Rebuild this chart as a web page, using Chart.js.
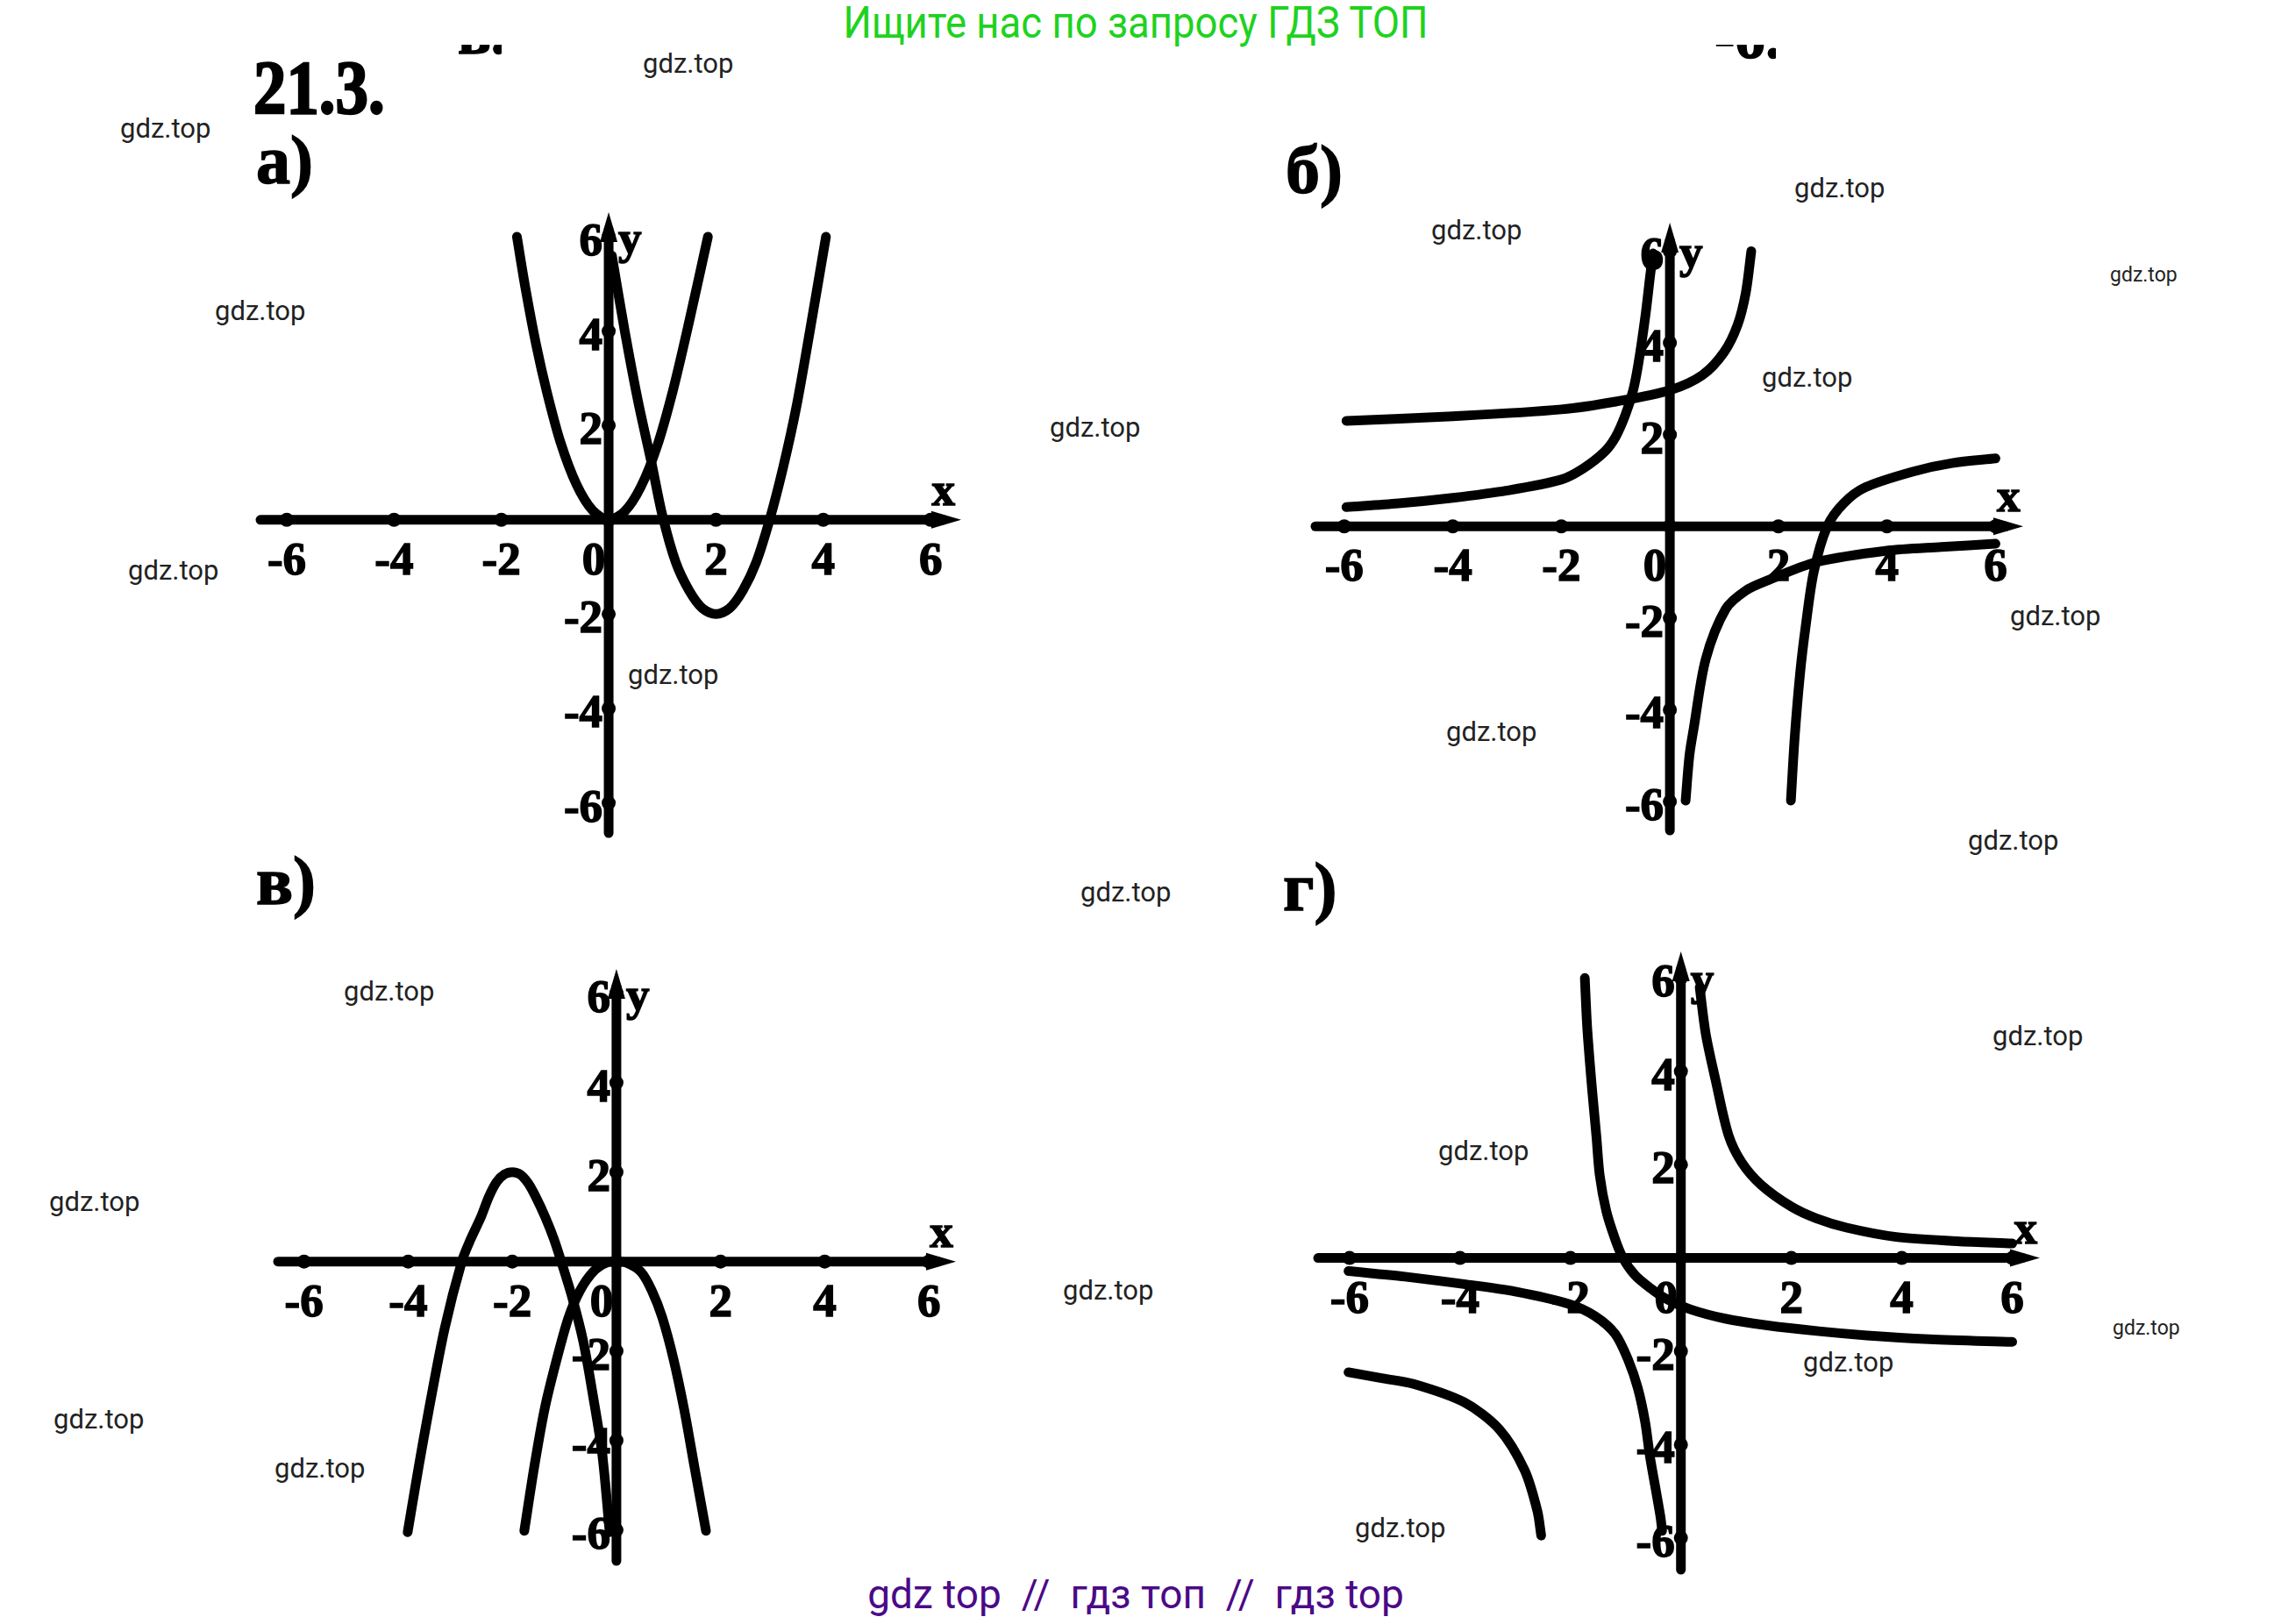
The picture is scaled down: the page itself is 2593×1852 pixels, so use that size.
<!DOCTYPE html>
<html lang="ru">
<head>
<meta charset="UTF-8">
<title>21.3</title>
<script src="https://cdn.jsdelivr.net/npm/chart.js"></script>
<style>
    body { margin: 0; background: #fff; }
    #page { position: relative; width: 2593px; height: 1852px; overflow: hidden; background: #fff; }
    .lbl { position: absolute; font-family: "Liberation Serif", serif; font-weight: bold; color: #000; line-height: 1; white-space: pre; -webkit-text-stroke: 1.5px #000; }
    .wm { position: absolute; font-family: Roboto, sans-serif; color: #222; line-height: 1; white-space: pre; }
    .clip { position: absolute; overflow: hidden; }
    canvas { position: absolute; }
</style>
</head>
<body>
<div id="page"></div>
<script>
// tick values, same on all four plots
const xTicks = [-6, -4, -2, 0, 2, 4, 6];
const yTicks = [6, 4, 2, -2, -4, -6];

// а) two parabolas
const aParabola1 = [[-1.71, 6.0], [-1.55, 4.9], [-1.35, 3.7], [-1.15, 2.7], [-0.9, 1.65], [-0.6, 0.75], [-0.3, 0.2], [0, 0],
    [0.3, 0.18], [0.6, 0.7], [0.9, 1.55], [1.2, 2.75], [1.5, 4.2], [1.85, 6.0]];
const aParabola2 = [[0.06, 5.6], [0.3, 4.0], [0.55, 2.5], [0.8, 1.2], [1.0, 0.1], [1.25, -0.9], [1.5, -1.5], [1.75, -1.88],
    [2.0, -2.0], [2.25, -1.88], [2.5, -1.5], [2.75, -0.9], [3.0, 0.0], [3.25, 1.1], [3.5, 2.4], [3.75, 4.0], [4.05, 6.0]];

// б) two hyperbolas, two branches each
const bCurve1Left = [[-5.96, 2.3], [-4, 2.4], [-2, 2.55], [-1, 2.72], [0, 2.97], [0.6, 3.3], [1.0, 3.8], [1.25, 4.4], [1.4, 5.1], [1.5, 6.0]];
const bCurve1Right = [[2.23, -5.98], [2.3, -4.6], [2.4, -3.2], [2.5, -2.2], [2.65, -1.0], [2.9, 0], [3.2, 0.5], [3.6, 0.85], [4.5, 1.2], [5.2, 1.38], [6.0, 1.48]];
const bCurve2Left = [[-5.96, 0.42], [-5, 0.5], [-4, 0.62], [-3, 0.78], [-2, 1.02], [-1.6, 1.26], [-1.2, 1.63], [-1.0, 1.95],
    [-0.82, 2.43], [-0.68, 2.95], [-0.58, 3.55], [-0.45, 4.6], [-0.36, 5.5], [-0.31, 5.95]];
const bCurve2Right = [[0.29, -5.98], [0.36, -5.0], [0.44, -4.4], [0.66, -2.9], [1.03, -1.8], [1.4, -1.4], [1.8, -1.18], [2.7, -0.78], [4.0, -0.53], [5.0, -0.45], [6.0, -0.38]];

// в) two downward parabolas
const vParabola1 = [[-4.01, -6.05], [-3.8, -4.6], [-3.6, -3.3], [-3.3, -1.5], [-2.97, 0], [-2.8, 0.5], [-2.6, 1.0], [-2.45, 1.45],
    [-2.3, 1.78], [-2.15, 1.95], [-2.0, 2.0], [-1.85, 1.95], [-1.7, 1.76], [-1.55, 1.45], [-1.37, 1.0], [-1.2, 0.5], [-1.06, 0],
    [-0.85, -0.8], [-0.64, -1.77], [-0.45, -3.0], [-0.27, -4.33], [-0.13, -6.05]];
const vParabola2 = [[-1.77, -6.02], [-1.58, -4.6], [-1.38, -3.3], [-1.15, -2.2], [-0.92, -1.25], [-0.7, -0.65], [-0.45, -0.23], [-0.2, -0.03], [0, 0],
    [0.2, -0.03], [0.47, -0.23], [0.68, -0.65], [0.88, -1.25], [1.1, -2.2], [1.3, -3.3], [1.5, -4.6], [1.72, -6.02]];

// г) two hyperbolas
const gCurve1Right = [[0.34, 5.8], [0.45, 4.8], [0.63, 3.8], [0.86, 2.64], [1.1, 2.05], [1.45, 1.57], [2.0, 1.1], [2.45, 0.85], [3.0, 0.65], [3.9, 0.45], [5.0, 0.36], [6.0, 0.31]];
const gCurve1Left = [[-6.02, -0.28], [-5, -0.4], [-3.93, -0.56], [-3, -0.72], [-2.02, -0.99], [-1.55, -1.25], [-1.19, -1.63], [-0.95, -2.2],
    [-0.78, -2.79], [-0.65, -3.5], [-0.56, -4.26], [-0.45, -5.0], [-0.37, -5.55], [-0.34, -5.85]];
const gCurve2Right = [[-1.74, 6.0], [-1.7, 5.0], [-1.65, 4.2], [-1.6, 3.5], [-1.53, 2.6], [-1.47, 1.77], [-1.35, 1.0], [-1.19, 0.4], [-1.05, 0.0],
    [-0.83, -0.37], [-0.55, -0.65], [-0.29, -0.86], [0.17, -1.1], [0.8, -1.3], [1.54, -1.44], [2.5, -1.57], [3.37, -1.66], [4.5, -1.74], [6.0, -1.8]];
const gCurve2Left = [[-6.02, -2.45], [-5.4, -2.58], [-4.84, -2.7], [-3.93, -3.09], [-3.29, -3.67], [-2.83, -4.55], [-2.6, -5.42], [-2.53, -5.95]];

// where each plot sits on the page (origin pixel, pixels per unit, axis extent)
const panels = [
    { curves: [aParabola1, aParabola2], ox: 694, oy: 593, ux: 61.2, uy: 53.8, xr: [-6.49, 6.57], yr: [-6.64, 6.52] },
    { curves: [bCurve1Left, bCurve1Right, bCurve2Left, bCurve2Right], ox: 1904, oy: 600, ux: 61.9, uy: 52.3, xr: [-6.53, 6.51], yr: [-6.63, 6.62] },
    { curves: [vParabola1, vParabola2], ox: 703, oy: 1439, ux: 59.4, uy: 51, xr: [-6.5, 6.52], yr: [-6.69, 6.54] },
    { curves: [gCurve1Right, gCurve1Left, gCurve2Right, gCurve2Left], ox: 1917, oy: 1435, ux: 63, uy: 53.2, xr: [-6.57, 6.5], yr: [-6.68, 6.57] }
];

const page = document.getElementById('page');

function addText(cls, txt, left, baseline, size, extra) {
    const d = document.createElement('div');
    d.className = cls;
    d.textContent = txt;
    d.style.left = left + 'px';
    d.style.top = (baseline - 0.84 * size) + 'px';
    d.style.fontSize = size + 'px';
    Object.assign(d.style, extra || {});
    page.appendChild(d);
    return d;
}

// headings
addText('lbl', '21.3.', 289, 129, 86, { transform: 'scaleX(0.87)', transformOrigin: 'left', webkitTextStroke: '2.5px #000' });
addText('lbl', 'а)', 292, 210, 78);
addText('lbl', 'б)', 1466, 221, 78);
addText('lbl', 'в)', 292, 1032, 78);
addText('lbl', 'г)', 1463, 1039, 78);

// scraps of the previous exercise cut off at the top edge
function addScrap(txt, left, top, w, h, baseline, size) {
    const c = document.createElement('div');
    c.className = 'clip';
    Object.assign(c.style, { left: left + 'px', top: top + 'px', width: w + 'px', height: h + 'px' });
    const s = document.createElement('div');
    s.className = 'lbl';
    s.textContent = txt;
    s.style.fontSize = size + 'px';
    s.style.left = '0px';
    s.style.top = (baseline - 0.84 * size - top) + 'px';
    c.appendChild(s);
    page.appendChild(c);
}
addScrap('в.', 522, 51, 50, 12, 62, 70);
addScrap('-б.', 1955, 51, 70, 17, 67, 70);

// site banners
addText('wm', 'Ищите нас по запросу ГДЗ ТОП', 1295, 43, 50, { color: '#1fd21f', transform: 'translateX(-50%) scaleX(0.91)' });
addText('wm', 'gdz top  //  гдз топ  //  гдз top', 1295, 1834, 46, { color: '#4b0a87', transform: 'translateX(-50%)' });

// watermarks: [left, top of letters, size]
const marks = [[733, 60, 31], [137, 134, 31], [245, 342, 31], [1197, 475, 31], [146, 638, 31], [716, 757, 31],
    [1632, 250, 31], [2046, 202, 31], [2406, 304, 23], [2009, 418, 31], [2292, 690, 31], [1649, 822, 31],
    [2244, 946, 31], [1232, 1005, 31], [392, 1118, 31], [56, 1358, 31], [1212, 1459, 31], [61, 1606, 31],
    [313, 1662, 31], [2272, 1169, 31], [1640, 1300, 31], [2409, 1505, 23], [2056, 1541, 31], [1545, 1730, 31]];
marks.forEach(m => addText('wm', 'gdz.top', m[0], m[1] + 0.75 * m[2], m[2]));

const PAD = 40;
const tickFont = 'bold 53px "Liberation Serif", serif';

function dot(ctx, px, py) {
    ctx.beginPath();
    ctx.arc(px, py, 8, 0, Math.PI * 2);
    ctx.fill();
}

function heavyText(ctx, txt, px, py) {
    ctx.fillText(txt, px, py);
    ctx.strokeText(txt, px, py);
}

const axesPlugin = {
    id: 'axes',
    beforeDatasetsDraw(chart) {
        const { ctx, scales: { x, y } } = chart;
        const x0 = x.getPixelForValue(0), y0 = y.getPixelForValue(0);
        ctx.save();
        ctx.strokeStyle = '#000';
        ctx.fillStyle = '#000';
        ctx.lineWidth = 11;
        ctx.lineCap = 'round';
        // x axis with arrow
        ctx.beginPath();
        ctx.moveTo(x.left, y0);
        ctx.lineTo(x.right - 20, y0);
        ctx.stroke();
        ctx.beginPath();
        ctx.moveTo(x.right, y0);
        ctx.lineTo(x.right - 34, y0 - 10);
        ctx.lineTo(x.right - 34, y0 + 10);
        ctx.closePath();
        ctx.fill();
        // y axis with arrow
        ctx.beginPath();
        ctx.moveTo(x0, y.bottom);
        ctx.lineTo(x0, y.top + 20);
        ctx.stroke();
        ctx.beginPath();
        ctx.moveTo(x0, y.top);
        ctx.lineTo(x0 - 10, y.top + 34);
        ctx.lineTo(x0 + 10, y.top + 34);
        ctx.closePath();
        ctx.fill();
        xTicks.forEach(v => dot(ctx, x.getPixelForValue(v), y0));
        yTicks.forEach(v => dot(ctx, x0, y.getPixelForValue(v)));
        ctx.restore();
    },
    afterDatasetsDraw(chart) {
        const { ctx, scales: { x, y } } = chart;
        const x0 = x.getPixelForValue(0), y0 = y.getPixelForValue(0);
        ctx.save();
        ctx.fillStyle = '#000';
        ctx.strokeStyle = '#000';
        ctx.lineWidth = 1.5;
        ctx.font = tickFont;
        ctx.textBaseline = 'alphabetic';
        ctx.textAlign = 'center';
        xTicks.forEach(v => {
            const px = v === 0 ? x0 - 17 : x.getPixelForValue(v);
            heavyText(ctx, String(v), px, y0 + 62);
        });
        ctx.textAlign = 'right';
        yTicks.forEach(v => heavyText(ctx, String(v), x0 - 7, y.getPixelForValue(v) + 21));
        ctx.textAlign = 'center';
        heavyText(ctx, 'x', x.getPixelForValue(6.24), y0 - 17);
        ctx.textAlign = 'left';
        heavyText(ctx, 'y', x0 + 11, y.getPixelForValue(6) + 19);
        ctx.restore();
    }
};

panels.forEach(p => {
    const cv = document.createElement('canvas');
    const w = Math.round((p.xr[1] - p.xr[0]) * p.ux + 2 * PAD);
    const h = Math.round((p.yr[1] - p.yr[0]) * p.uy + 2 * PAD);
    cv.width = w;
    cv.height = h;
    cv.style.left = Math.round(p.ox + p.xr[0] * p.ux - PAD) + 'px';
    cv.style.top = Math.round(p.oy - p.yr[1] * p.uy - PAD) + 'px';
    cv.style.width = w + 'px';
    cv.style.height = h + 'px';
    page.appendChild(cv);

    new Chart(cv.getContext('2d'), {
        type: 'scatter',
        data: {
            datasets: p.curves.map(c => ({
                data: c.map(pt => ({ x: pt[0], y: pt[1] })),
                showLine: true,
                borderColor: '#000',
                borderWidth: 11,
                borderCapStyle: 'round',
                borderJoinStyle: 'round',
                pointRadius: 0,
                tension: 0.3,
                fill: false,
                clip: false
            }))
        },
        options: {
            responsive: false,
            animation: false,
            devicePixelRatio: 1,
            layout: { padding: PAD },
            plugins: { legend: { display: false }, tooltip: { enabled: false } },
            scales: {
                x: { type: 'linear', min: p.xr[0], max: p.xr[1], display: false },
                y: { type: 'linear', min: p.yr[0], max: p.yr[1], display: false }
            }
        },
        plugins: [axesPlugin]
    });
});
</script>
</body>
</html>
